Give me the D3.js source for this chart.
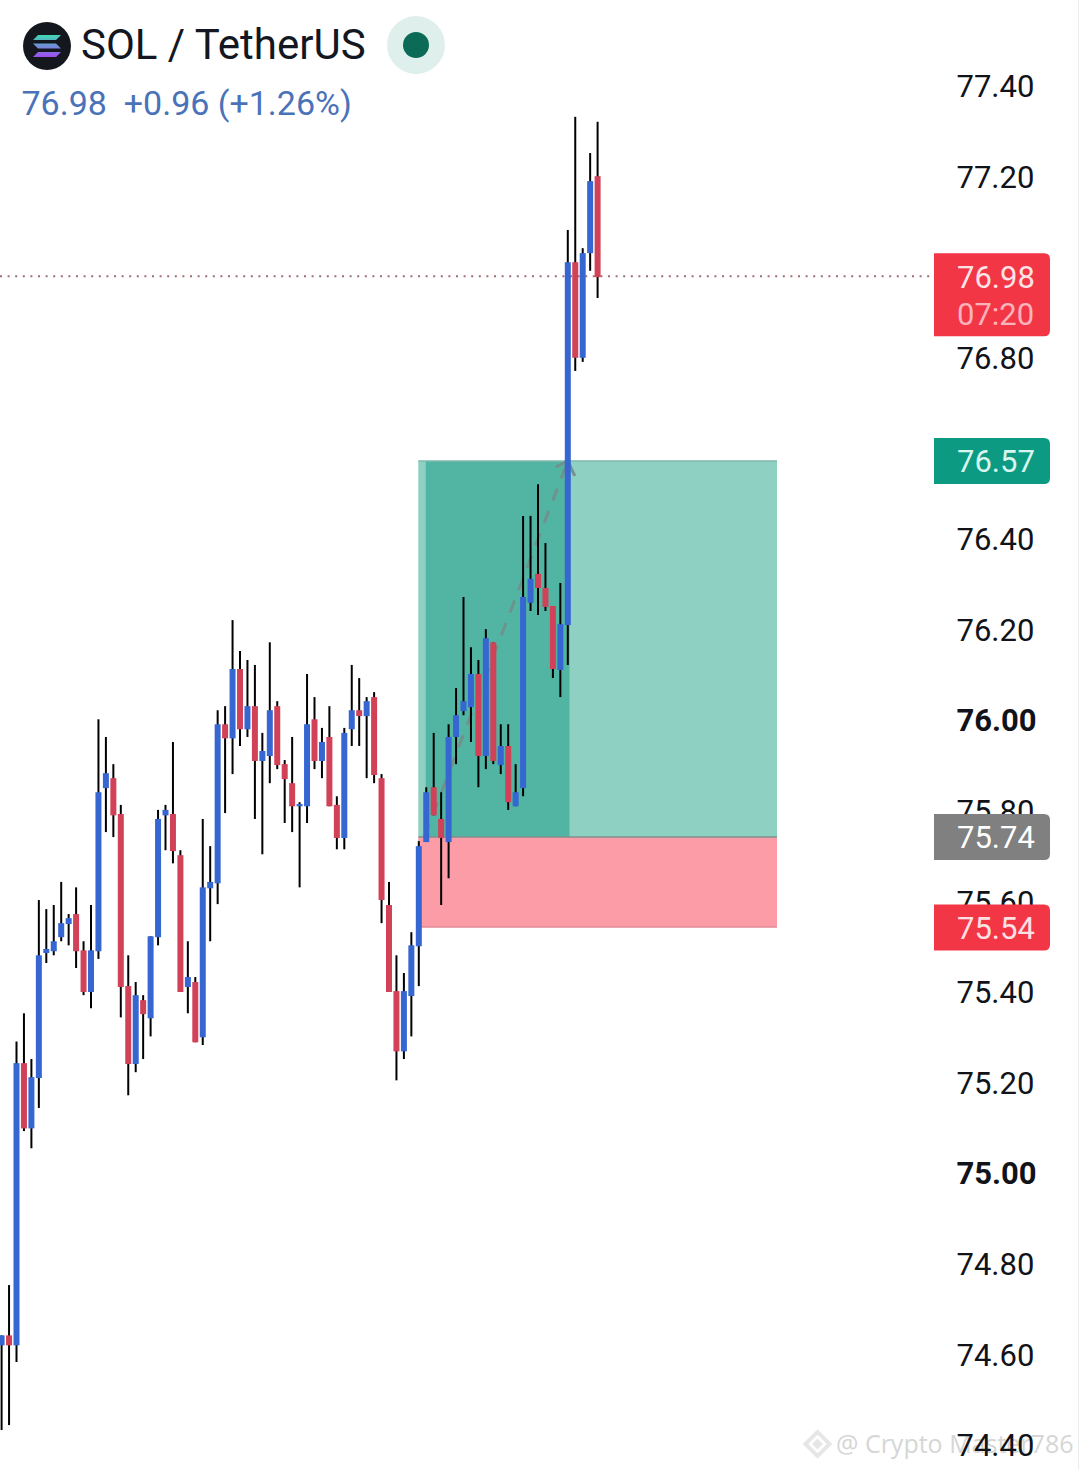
<!DOCTYPE html>
<html><head><meta charset="utf-8">
<script src="https://cdn.jsdelivr.net/npm/d3@7/dist/d3.min.js"></script>
<style>html,body{margin:0;padding:0;background:#fff}svg{display:block;font-family:Roboto,sans-serif}</style>
</head><body><svg id="c" width="1080" height="1469"></svg>
<script>
const open=[74.620,74.642,74.620,75.243,75.099,75.210,75.486,75.490,75.521,75.550,75.572,75.492,75.400,75.490,75.850,75.872,75.793,75.413,75.241,75.382,75.342,75.521,75.790,75.793,75.702,75.411,75.422,75.300,75.629,75.640,75.991,75.960,76.113,75.980,76.031,75.910,75.921,76.031,75.903,75.861,75.810,75.810,76.002,75.910,75.963,75.813,75.740,75.980,76.022,76.009,76.051,75.872,75.592,75.402,75.269,75.391,75.501,75.731,75.852,75.782,75.731,75.963,76.020,76.029,76.102,75.921,76.172,75.901,75.943,75.810,75.850,76.259,76.323,76.292,76.252,76.111,76.210,77.011,76.800,77.031,77.201];
const high=[74.642,74.753,75.291,75.353,75.252,75.603,75.583,75.592,75.643,75.572,75.631,75.512,75.592,76.002,75.963,75.903,75.813,75.481,75.422,75.393,75.523,75.802,75.813,75.952,75.713,75.512,75.433,75.782,75.722,76.022,76.031,76.221,76.153,76.133,76.122,75.972,76.172,76.042,75.912,75.963,75.819,76.102,76.051,75.983,76.031,75.832,75.983,76.122,76.093,76.051,76.062,75.881,75.643,75.481,75.442,75.532,75.733,75.852,75.972,75.841,75.991,76.071,76.272,76.161,76.133,76.201,76.172,75.991,75.991,75.903,76.451,76.451,76.521,76.391,76.252,76.303,77.082,77.332,77.042,77.252,77.321];
const low=[74.433,74.444,74.583,75.093,75.055,75.144,75.464,75.481,75.512,75.503,75.453,75.393,75.364,75.473,75.753,75.742,75.344,75.172,75.223,75.252,75.302,75.503,75.713,75.684,75.400,75.353,75.289,75.283,75.512,75.594,75.795,75.881,75.943,75.963,75.782,75.704,75.861,75.892,75.773,75.753,75.631,75.773,75.892,75.872,75.810,75.715,75.715,75.943,75.943,75.872,75.861,75.552,75.400,75.205,75.252,75.302,75.413,75.731,75.790,75.592,75.651,75.903,76.011,75.952,75.852,75.892,75.903,75.881,75.802,75.810,75.832,76.241,76.232,76.241,76.093,76.051,76.122,76.771,76.791,76.992,76.932];
const close=[74.642,74.620,75.243,75.099,75.212,75.481,75.495,75.512,75.552,75.563,75.490,75.400,75.492,75.841,75.883,75.790,75.411,75.241,75.393,75.351,75.523,75.782,75.802,75.711,75.400,75.433,75.289,75.631,75.643,75.991,75.960,76.113,75.980,76.031,75.910,75.932,76.022,75.901,75.870,75.810,75.815,75.991,75.910,75.952,75.810,75.740,75.972,76.022,76.009,76.042,75.879,75.603,75.400,75.269,75.402,75.503,75.722,75.841,75.790,75.740,75.963,76.011,76.042,76.102,75.921,76.181,75.910,75.943,75.819,75.841,76.272,76.312,76.292,76.250,76.113,76.212,77.011,76.800,77.031,77.190,76.978];
const tickValues=[77.4,77.2,77.0,76.8,76.6,76.4,76.2,76.0,75.8,75.6,75.4,75.2,75.0,74.8,74.6,74.4];
const lastPrice=76.98, targetPrice=76.57, entryPrice=75.74, stopPrice=75.54;
const positionStart=56, positionEnd=104.15, holdStart=57, holdEnd=76.3, arrowStart=56.75;
const priceTags=[
 {v:targetPrice,t:"76.57",fill:"#0c9a82",color:"#d8f5ee"},
 {v:entryPrice,t:"75.74",fill:"#808080",color:"#ffffff"},
 {v:stopPrice,t:"75.54",fill:"#f23645",color:"#fde0e3"}];
const UP="#3566d2", DOWN="#d14258";

const svg=d3.select("#c");
const y=d3.scaleLinear().domain([74.4,77.4]).range([1445,86]);
const x=d3.scaleLinear().domain([0,80]).range([1.6,597.6]);
const ny=v=>y(v)-1; // annotations sit one pixel above the candle scale in the reference

// watermark
const wm=svg.append("g");
wm.append("path").attr("d",d3.symbol(d3.symbolSquare,290)()).attr("transform","translate(817.5,1444) rotate(45)").attr("fill","none").attr("stroke","#e6e6e6").attr("stroke-width",4);
wm.append("path").attr("d",d3.symbol(d3.symbolSquare,60)()).attr("transform","translate(817.5,1444) rotate(45)").attr("fill","#e6e6e6");
wm.append("text").attr("x",836).attr("y",1453).attr("font-family","'Open Sans'").attr("font-size",25).attr("fill","#d6d6d6").text("@ Crypto Master786");

// position tool
svg.append("rect").attr("x",x(positionStart)-.5).attr("width",x(positionEnd)-x(positionStart)).attr("y",ny(targetPrice)).attr("height",y(entryPrice)-y(targetPrice)).attr("fill","#8ed1c2");
svg.append("rect").attr("x",x(holdStart)-.5).attr("width",x(holdEnd)-x(holdStart)).attr("y",ny(targetPrice)).attr("height",y(entryPrice)-y(targetPrice)).attr("fill","#52b5a3");
svg.append("rect").attr("x",x(positionStart)-.5).attr("width",x(positionEnd)-x(positionStart)).attr("y",ny(entryPrice)).attr("height",y(stopPrice)-y(entryPrice)-.6).attr("fill","#fb9ca7");
[[targetPrice,"#7fb8ac",0],[entryPrice,"#7f8f8c",0],[stopPrice,"#e58a96",-.6]].forEach(([v,c,o])=>svg.append("line").attr("x1",x(positionStart)-.5).attr("x2",x(positionEnd)-.5).attr("y1",ny(v)+o).attr("y2",ny(v)+o).attr("stroke",c).attr("stroke-width",1.5));

// dashed arrow
const ax=x(holdEnd-.3), ay=ny(targetPrice);
svg.append("line").attr("x1",x(arrowStart)).attr("y1",ny(entryPrice)).attr("x2",ax).attr("y2",ay).attr("stroke","#6f928c").attr("stroke-width",3).attr("stroke-dasharray","13 11");
svg.append("path").attr("d",d3.line()([[ax-12,ay+6],[ax,ay],[ax+7,ay+15]])).attr("fill","none").attr("stroke","#6f928c").attr("stroke-width",3);

// last price line
svg.append("line").attr("x1",0).attr("x2",934).attr("y1",y(lastPrice)).attr("y2",y(lastPrice)).attr("stroke","#a06c74").attr("stroke-width",2).attr("stroke-dasharray","2 5.6");

// candles
const idx=d3.range(open.length);
svg.append("g").selectAll("line").data(idx).join("line")
 .attr("x1",i=>x(i)).attr("x2",i=>x(i)).attr("y1",i=>y(high[i])).attr("y2",i=>y(low[i])).attr("stroke","#000").attr("stroke-width",2);
svg.append("g").selectAll("rect").data(idx).join("rect")
 .attr("x",i=>x(i)-3).attr("width",6)
 .attr("y",i=>y(Math.max(open[i],close[i])))
 .attr("height",i=>Math.max(2,Math.abs(y(open[i])-y(close[i]))))
 .attr("fill",i=>close[i]>=open[i]?UP:DOWN);

// axis
const axis=d3.axisRight(y).tickValues(tickValues).tickSize(0).tickPadding(0).tickFormat(d3.format(".2f"));
const gA=svg.append("g").attr("transform","translate(956.5,0.7)").call(axis);
gA.select(".domain").remove();
gA.selectAll("text").attr("font-family","Roboto").attr("font-size",31).attr("fill","#111318")
 .attr("font-weight",d=>Number.isInteger(d)?700:400);

// price tags
const tagPath=(x0,x1,y0,y1,r)=>`M${x0},${y0}H${x1-r}Q${x1},${y0} ${x1},${y0+r}V${y1-r}Q${x1},${y1} ${x1-r},${y1}H${x0}Z`;
const lastY=ny(lastPrice);
svg.append("path").attr("d",tagPath(934,1050,lastY-22,lastY+61,6)).attr("fill","#f23645");
svg.append("text").attr("x",957).attr("y",lastY+13).attr("font-size",31).attr("fill","#fde3e6").text(d3.format(".2f")(lastPrice));
svg.append("text").attr("x",957).attr("y",lastY+50).attr("font-size",31).attr("fill","#fbb3bb").text("07:20");
priceTags.forEach(p=>{
 const py=ny(p.v);
 svg.append("path").attr("d",tagPath(934,1050,py-23,py+23,6)).attr("fill",p.fill);
 svg.append("text").attr("x",957).attr("y",py+11.5).attr("font-size",31).attr("fill",p.color).text(p.t);
});

// header
svg.append("circle").attr("cx",47).attr("cy",46).attr("r",24).attr("fill","#15171f");
const defs=svg.append("defs");
const lg=defs.append("linearGradient").attr("id","sol").attr("x1",0).attr("y1",0).attr("x2",0).attr("y2",1);
lg.append("stop").attr("offset",0).attr("stop-color","#3fd8b0");
lg.append("stop").attr("offset",.5).attr("stop-color","#6f8fd8");
lg.append("stop").attr("offset",1).attr("stop-color","#a04cf0");
svg.append("path").attr("d","M38,35H61L56,40H33Z M33,43.5H56L61,48.5H38Z M38,52H61L56,57H33Z").attr("fill","url(#sol)");
svg.append("text").attr("x",81).attr("y",58.5).attr("font-size",42).attr("fill","#131722").text("SOL / TetherUS");
svg.append("circle").attr("cx",416).attr("cy",45).attr("r",29).attr("fill","#dff0ec");
svg.append("circle").attr("cx",416).attr("cy",45).attr("r",13).attr("fill","#0b6b57");
svg.append("text").attr("x",21.5).attr("y",115).attr("font-size",34).attr("fill","#4a72b8").style("white-space","pre").text("76.98  +0.96 (+1.26%)");

// right edge
svg.append("line").attr("x1",1078.5).attr("x2",1078.5).attr("y1",0).attr("y2",1469).attr("stroke","#ececec").attr("stroke-width",1);
</script></body></html>
